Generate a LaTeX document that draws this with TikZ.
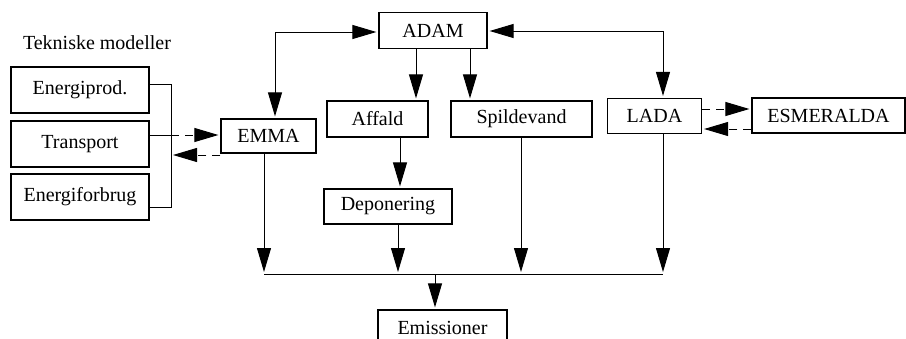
\documentclass[tikz,border=0pt]{standalone}
\usepackage{fontspec}
\setmainfont{Liberation Serif}
\usetikzlibrary{arrows.meta}

\begin{document}
\begin{tikzpicture}[x=0.5pt, y=-0.5pt]
		\tikzset{bx/.style={draw=black, line width=0.6pt, inner sep=0pt, minimum height=18pt},
			ln/.style={line width=0.5pt},
			arr/.style={ln, -{Triangle[length=12pt, width=7pt]}, shorten >=1pt},
			dbl/.style={ln, {Triangle[length=12pt, width=7pt]}-{Triangle[length=12pt, width=7pt]}, shorten >=1pt, shorten <=1pt},
			dsh/.style={dash pattern=on 4pt off 3pt}};

		\useasboundingbox (0, 0) rectangle (906, 338);

		\node (tek) at (97, 43) {Tekniske modeller};
		\node[bx, minimum width=69pt, minimum height=23pt] (eprod) at (80, 90) {Energiprod.};
		\node[bx, minimum width=69pt, minimum height=23pt] (trans) at (80, 144) {Transport};
		\node[bx, minimum width=69pt, minimum height=23pt] (eforb) at (80, 197) {Energiforbrug};
		\node[bx, minimum width=47.5pt, minimum height=17pt] (emma) at (268.5, 136) {EMMA};
		\node[bx, minimum width=54pt] (adam) at (433, 30.5) {ADAM};
		\node[bx, minimum width=50.5pt] (affald) at (377.5, 119) {Affald};
		\node[bx, minimum width=70.5pt] (spild) at (521.5, 119) {Spildevand};
		\node[bx, minimum width=47pt, minimum height=17.5pt] (lada) at (654.5, 116) {LADA};
		\node[bx, minimum width=76.5pt, minimum height=17.5pt] (esm) at (828.5, 115.5) {ESMERALDA};
		\node[bx, minimum width=64pt, minimum height=17.5pt] (depon) at (388, 206.5) {Deponering};
		\node[bx, minimum width=64.5pt, minimum height=17.5pt] (emis) at (442.5, 327.5) {Emissioner};

		\coordinate (c1) at (275, 32);
		\coordinate (c2) at (663, 31);
		\coordinate (bt) at (171, 84);
		\coordinate (bb) at (171, 207);
		\coordinate (tc) at (171, 135);
		\coordinate (bk) at (171, 155);
		\coordinate (b1) at (264, 274);
		\coordinate (b2) at (663, 274);

		% tekniske modeller
		\draw[ln] (eprod.east |- bt) -- (bt) -- (bb) -- (eforb.east |- bb);
		\draw[ln] (trans.east |- tc) -- (tc);
		\draw[arr, dsh] (tc) -- (emma.west |- tc);
		\draw[arr, dsh] (emma.west |- bk) -- (bk);

		% ADAM
		\draw[dbl] (emma.north -| c1) -- (c1) -- (adam.west |- c1);
		\draw[dbl] (lada.north -| c2) -- (c2) -- (adam.east |- c2);
		\draw[arr] (adam.south -| 416, 0) -- (affald.north -| 416, 0);
		\draw[arr] (adam.south -| 470, 0) -- (spild.north -| 470, 0);
		\draw[arr] (affald.south -| 400, 0) -- (depon.north -| 400, 0);

		% LADA
		\draw[arr, dsh] (lada.east |- 0, 109) -- (esm.west |- 0, 109);
		\draw[arr, dsh] (esm.west |- 0, 129) -- (lada.east |- 0, 129);

		% emissioner
		\draw[ln] (b1) -- (b2);
		\draw[arr] (emma.south -| b1) -- (b1);
		\draw[arr] (depon.south -| 398, 0) -- (398, 274);
		\draw[arr] (spild.south -| 521, 0) -- (521, 274);
		\draw[arr] (lada.south -| b2) -- (b2);
		\draw[arr] (435, 274) -- (emis.north -| 435, 0);
	\end{tikzpicture}
\end{document}
